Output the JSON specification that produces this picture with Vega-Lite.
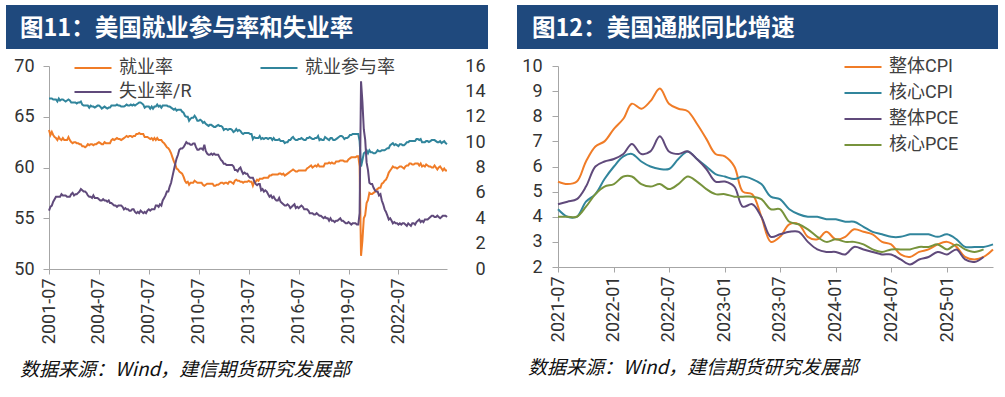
{
"$schema": "https://vega.github.io/schema/vega-lite/v6.json",
"background": "white",
"padding": {"left": 6, "top": 5, "right": 0, "bottom": 0},
"config": {
  "view": {"stroke": null},
  "axis": {"labelFont": "Roboto", "labelFontSize": 18, "labelColor": "#333333", "domainColor": "#A6A6A6", "tickColor": "#A6A6A6", "grid": false, "title": null},
  "legend": {"labelFont": "Roboto, Noto Sans CJK SC", "labelFontSize": 18, "labelColor": "#404040", "symbolType": "stroke", "symbolSize": 1369, "symbolStrokeWidth": 2.2, "labelOffset": 6, "padding": 0, "title": null, "clipHeight": 20},
  "title": {"font": "Noto Sans CJK SC"}
},
"resolve": {"scale": {"color": "independent"}},
"datasets": {
"emp": [
{"d":"2001-07","e":63.7,"p":66.8,"u":4.6},{"d":"2001-08","e":63.2,"p":66.8,"u":4.9},{"d":"2001-09","e":63.5,"p":66.8,"u":5.0},{"d":"2001-10","e":63.2,"p":66.7,"u":5.3},{"d":"2001-11","e":63.0,"p":66.7,"u":5.5},{"d":"2001-12","e":62.9,"p":66.7,"u":5.7},
{"d":"2002-01","e":62.7,"p":66.5,"u":5.7},{"d":"2002-02","e":63.0,"p":66.8,"u":5.7},{"d":"2002-03","e":62.8,"p":66.6,"u":5.7},{"d":"2002-04","e":62.7,"p":66.7,"u":5.9},{"d":"2002-05","e":62.9,"p":66.7,"u":5.8},{"d":"2002-06","e":62.7,"p":66.6,"u":5.8},{"d":"2002-07","e":62.7,"p":66.5,"u":5.8},{"d":"2002-08","e":62.7,"p":66.6,"u":5.7},{"d":"2002-09","e":63.0,"p":66.7,"u":5.7},{"d":"2002-10","e":62.7,"p":66.6,"u":5.7},{"d":"2002-11","e":62.5,"p":66.4,"u":5.9},{"d":"2002-12","e":62.4,"p":66.4,"u":6.0},
{"d":"2003-01","e":62.5,"p":66.4,"u":5.8},{"d":"2003-02","e":62.5,"p":66.4,"u":5.9},{"d":"2003-03","e":62.4,"p":66.3,"u":5.9},{"d":"2003-04","e":62.4,"p":66.4,"u":6.0},{"d":"2003-05","e":62.3,"p":66.4,"u":6.1},{"d":"2003-06","e":62.3,"p":66.5,"u":6.3},{"d":"2003-07","e":62.1,"p":66.2,"u":6.2},{"d":"2003-08","e":62.1,"p":66.1,"u":6.1},{"d":"2003-09","e":62.0,"p":66.1,"u":6.1},{"d":"2003-10","e":62.1,"p":66.1,"u":6.0},{"d":"2003-11","e":62.3,"p":66.1,"u":5.8},{"d":"2003-12","e":62.2,"p":65.9,"u":5.7},
{"d":"2004-01","e":62.3,"p":66.1,"u":5.7},{"d":"2004-02","e":62.3,"p":66.0,"u":5.6},{"d":"2004-03","e":62.2,"p":66.0,"u":5.8},{"d":"2004-04","e":62.3,"p":65.9,"u":5.6},{"d":"2004-05","e":62.3,"p":66.0,"u":5.6},{"d":"2004-06","e":62.4,"p":66.1,"u":5.6},{"d":"2004-07","e":62.5,"p":66.1,"u":5.5},{"d":"2004-08","e":62.4,"p":66.0,"u":5.4},{"d":"2004-09","e":62.3,"p":65.8,"u":5.4},{"d":"2004-10","e":62.3,"p":65.9,"u":5.5},{"d":"2004-11","e":62.5,"p":66.0,"u":5.4},{"d":"2004-12","e":62.4,"p":65.9,"u":5.4},
{"d":"2005-01","e":62.4,"p":65.8,"u":5.3},{"d":"2005-02","e":62.4,"p":65.9,"u":5.4},{"d":"2005-03","e":62.4,"p":65.9,"u":5.2},{"d":"2005-04","e":62.7,"p":66.1,"u":5.2},{"d":"2005-05","e":62.8,"p":66.1,"u":5.1},{"d":"2005-06","e":62.7,"p":66.1,"u":5.0},{"d":"2005-07","e":62.8,"p":66.1,"u":5.0},{"d":"2005-08","e":62.9,"p":66.2,"u":4.9},{"d":"2005-09","e":62.8,"p":66.1,"u":5.0},{"d":"2005-10","e":62.8,"p":66.1,"u":5.0},{"d":"2005-11","e":62.7,"p":66.0,"u":5.0},{"d":"2005-12","e":62.8,"p":66.0,"u":4.9},
{"d":"2006-01","e":62.9,"p":66.0,"u":4.7},{"d":"2006-02","e":63.0,"p":66.1,"u":4.8},{"d":"2006-03","e":63.1,"p":66.2,"u":4.7},{"d":"2006-04","e":63.0,"p":66.1,"u":4.7},{"d":"2006-05","e":63.1,"p":66.1,"u":4.6},{"d":"2006-06","e":63.1,"p":66.2,"u":4.6},{"d":"2006-07","e":63.0,"p":66.1,"u":4.7},{"d":"2006-08","e":63.1,"p":66.2,"u":4.7},{"d":"2006-09","e":63.1,"p":66.1,"u":4.5},{"d":"2006-10","e":63.3,"p":66.2,"u":4.4},{"d":"2006-11","e":63.3,"p":66.3,"u":4.5},{"d":"2006-12","e":63.4,"p":66.4,"u":4.4},
{"d":"2007-01","e":63.3,"p":66.4,"u":4.6},{"d":"2007-02","e":63.3,"p":66.3,"u":4.5},{"d":"2007-03","e":63.3,"p":66.2,"u":4.4},{"d":"2007-04","e":63.0,"p":65.9,"u":4.5},{"d":"2007-05","e":63.0,"p":66.0,"u":4.4},{"d":"2007-06","e":63.0,"p":66.0,"u":4.6},{"d":"2007-07","e":62.9,"p":66.0,"u":4.7},{"d":"2007-08","e":62.8,"p":65.8,"u":4.6},{"d":"2007-09","e":62.9,"p":66.0,"u":4.7},{"d":"2007-10","e":62.7,"p":65.8,"u":4.7},{"d":"2007-11","e":62.9,"p":66.0,"u":4.7},{"d":"2007-12","e":62.7,"p":66.0,"u":5.0},
{"d":"2008-01","e":62.9,"p":66.2,"u":5.0},{"d":"2008-02","e":62.7,"p":66.0,"u":4.9},{"d":"2008-03","e":62.7,"p":66.1,"u":5.1},{"d":"2008-04","e":62.7,"p":65.9,"u":5.0},{"d":"2008-05","e":62.5,"p":66.1,"u":5.4},{"d":"2008-06","e":62.4,"p":66.1,"u":5.6},{"d":"2008-07","e":62.2,"p":66.1,"u":5.8},{"d":"2008-08","e":62.0,"p":66.1,"u":6.1},{"d":"2008-09","e":61.9,"p":66.0,"u":6.1},{"d":"2008-10","e":61.7,"p":66.0,"u":6.5},{"d":"2008-11","e":61.4,"p":65.9,"u":6.8},{"d":"2008-12","e":61.0,"p":65.8,"u":7.3},
{"d":"2009-01","e":60.6,"p":65.7,"u":7.8},{"d":"2009-02","e":60.3,"p":65.8,"u":8.3},{"d":"2009-03","e":59.9,"p":65.6,"u":8.7},{"d":"2009-04","e":59.8,"p":65.7,"u":9.0},{"d":"2009-05","e":59.6,"p":65.7,"u":9.4},{"d":"2009-06","e":59.5,"p":65.7,"u":9.5},{"d":"2009-07","e":59.4,"p":65.5,"u":9.5},{"d":"2009-08","e":59.1,"p":65.4,"u":9.6},{"d":"2009-09","e":58.7,"p":65.1,"u":9.8},{"d":"2009-10","e":58.5,"p":65.0,"u":10.0},{"d":"2009-11","e":58.6,"p":65.0,"u":9.9},{"d":"2009-12","e":58.3,"p":64.6,"u":9.9},
{"d":"2010-01","e":58.5,"p":64.8,"u":9.8},{"d":"2010-02","e":58.5,"p":64.9,"u":9.8},{"d":"2010-03","e":58.5,"p":64.9,"u":9.9},{"d":"2010-04","e":58.7,"p":65.1,"u":9.9},{"d":"2010-05","e":58.6,"p":64.9,"u":9.6},{"d":"2010-06","e":58.5,"p":64.6,"u":9.4},{"d":"2010-07","e":58.5,"p":64.6,"u":9.4},{"d":"2010-08","e":58.5,"p":64.7,"u":9.5},{"d":"2010-09","e":58.5,"p":64.6,"u":9.5},{"d":"2010-10","e":58.3,"p":64.4,"u":9.4},{"d":"2010-11","e":58.2,"p":64.5,"u":9.8},{"d":"2010-12","e":58.3,"p":64.3,"u":9.3},
{"d":"2011-01","e":58.4,"p":64.2,"u":9.1},{"d":"2011-02","e":58.4,"p":64.1,"u":9.0},{"d":"2011-03","e":58.4,"p":64.2,"u":9.0},{"d":"2011-04","e":58.4,"p":64.2,"u":9.1},{"d":"2011-05","e":58.4,"p":64.1,"u":9.0},{"d":"2011-06","e":58.2,"p":64.0,"u":9.1},{"d":"2011-07","e":58.2,"p":64.0,"u":9.0},{"d":"2011-08","e":58.3,"p":64.1,"u":9.0},{"d":"2011-09","e":58.3,"p":64.2,"u":9.0},{"d":"2011-10","e":58.4,"p":64.1,"u":8.8},{"d":"2011-11","e":58.5,"p":64.1,"u":8.6},{"d":"2011-12","e":58.5,"p":64.0,"u":8.5},
{"d":"2012-01","e":58.4,"p":63.7,"u":8.3},{"d":"2012-02","e":58.5,"p":63.8,"u":8.3},{"d":"2012-03","e":58.5,"p":63.8,"u":8.2},{"d":"2012-04","e":58.4,"p":63.7,"u":8.2},{"d":"2012-05","e":58.6,"p":63.8,"u":8.2},{"d":"2012-06","e":58.6,"p":63.8,"u":8.2},{"d":"2012-07","e":58.5,"p":63.7,"u":8.2},{"d":"2012-08","e":58.4,"p":63.5,"u":8.1},{"d":"2012-09","e":58.7,"p":63.6,"u":7.8},{"d":"2012-10","e":58.8,"p":63.8,"u":7.8},{"d":"2012-11","e":58.7,"p":63.6,"u":7.7},{"d":"2012-12","e":58.7,"p":63.7,"u":7.9},
{"d":"2013-01","e":58.6,"p":63.6,"u":8.0},{"d":"2013-02","e":58.6,"p":63.4,"u":7.7},{"d":"2013-03","e":58.5,"p":63.3,"u":7.5},{"d":"2013-04","e":58.6,"p":63.4,"u":7.6},{"d":"2013-05","e":58.6,"p":63.4,"u":7.5},{"d":"2013-06","e":58.6,"p":63.4,"u":7.5},{"d":"2013-07","e":58.7,"p":63.4,"u":7.3},{"d":"2013-08","e":58.6,"p":63.3,"u":7.2},{"d":"2013-09","e":58.6,"p":63.3,"u":7.2},{"d":"2013-10","e":58.2,"p":62.8,"u":7.2},{"d":"2013-11","e":58.6,"p":63.0,"u":6.9},{"d":"2013-12","e":58.6,"p":62.9,"u":6.7},
{"d":"2014-01","e":58.8,"p":62.9,"u":6.6},{"d":"2014-02","e":58.7,"p":62.9,"u":6.7},{"d":"2014-03","e":58.9,"p":63.1,"u":6.7},{"d":"2014-04","e":58.9,"p":62.8,"u":6.2},{"d":"2014-05","e":58.9,"p":62.9,"u":6.3},{"d":"2014-06","e":59.0,"p":62.8,"u":6.1},{"d":"2014-07","e":59.0,"p":62.9,"u":6.2},{"d":"2014-08","e":59.0,"p":62.9,"u":6.1},{"d":"2014-09","e":59.0,"p":62.8,"u":5.9},{"d":"2014-10","e":59.2,"p":62.9,"u":5.7},{"d":"2014-11","e":59.2,"p":62.9,"u":5.8},{"d":"2014-12","e":59.3,"p":62.7,"u":5.6},
{"d":"2015-01","e":59.3,"p":62.9,"u":5.7},{"d":"2015-02","e":59.3,"p":62.7,"u":5.5},{"d":"2015-03","e":59.3,"p":62.7,"u":5.4},{"d":"2015-04","e":59.3,"p":62.7,"u":5.4},{"d":"2015-05","e":59.4,"p":62.8,"u":5.6},{"d":"2015-06","e":59.4,"p":62.6,"u":5.3},{"d":"2015-07","e":59.3,"p":62.6,"u":5.2},{"d":"2015-08","e":59.4,"p":62.6,"u":5.1},{"d":"2015-09","e":59.2,"p":62.4,"u":5.0},{"d":"2015-10","e":59.3,"p":62.5,"u":5.0},{"d":"2015-11","e":59.4,"p":62.5,"u":5.1},{"d":"2015-12","e":59.5,"p":62.7,"u":5.0},
{"d":"2016-01","e":59.6,"p":62.7,"u":4.8},{"d":"2016-02","e":59.7,"p":62.9,"u":4.9},{"d":"2016-03","e":59.8,"p":63.0,"u":5.0},{"d":"2016-04","e":59.7,"p":62.8,"u":5.1},{"d":"2016-05","e":59.6,"p":62.7,"u":4.8},{"d":"2016-06","e":59.6,"p":62.7,"u":4.9},{"d":"2016-07","e":59.7,"p":62.8,"u":4.8},{"d":"2016-08","e":59.7,"p":62.8,"u":4.9},{"d":"2016-09","e":59.7,"p":62.9,"u":5.0},{"d":"2016-10","e":59.7,"p":62.8,"u":4.9},{"d":"2016-11","e":59.7,"p":62.7,"u":4.7},{"d":"2016-12","e":59.7,"p":62.7,"u":4.7},
{"d":"2017-01","e":59.9,"p":62.9,"u":4.7},{"d":"2017-02","e":60.0,"p":62.9,"u":4.6},{"d":"2017-03","e":60.1,"p":63.0,"u":4.4},{"d":"2017-04","e":60.2,"p":62.9,"u":4.4},{"d":"2017-05","e":60.0,"p":62.8,"u":4.4},{"d":"2017-06","e":60.1,"p":62.8,"u":4.3},{"d":"2017-07","e":60.2,"p":62.9,"u":4.3},{"d":"2017-08","e":60.1,"p":62.9,"u":4.4},{"d":"2017-09","e":60.3,"p":63.1,"u":4.3},{"d":"2017-10","e":60.1,"p":62.7,"u":4.2},{"d":"2017-11","e":60.1,"p":62.8,"u":4.2},{"d":"2017-12","e":60.1,"p":62.7,"u":4.1},
{"d":"2018-01","e":60.1,"p":62.7,"u":4.0},{"d":"2018-02","e":60.4,"p":63.0,"u":4.1},{"d":"2018-03","e":60.4,"p":62.9,"u":4.0},{"d":"2018-04","e":60.4,"p":62.8,"u":4.0},{"d":"2018-05","e":60.5,"p":62.7,"u":3.8},{"d":"2018-06","e":60.4,"p":62.9,"u":4.0},{"d":"2018-07","e":60.5,"p":62.9,"u":3.8},{"d":"2018-08","e":60.4,"p":62.7,"u":3.8},{"d":"2018-09","e":60.4,"p":62.7,"u":3.7},{"d":"2018-10","e":60.6,"p":62.8,"u":3.8},{"d":"2018-11","e":60.6,"p":62.9,"u":3.8},{"d":"2018-12","e":60.6,"p":63.0,"u":3.9},
{"d":"2019-01","e":60.7,"p":63.1,"u":4.0},{"d":"2019-02","e":60.7,"p":63.1,"u":3.8},{"d":"2019-03","e":60.7,"p":63.0,"u":3.8},{"d":"2019-04","e":60.6,"p":62.8,"u":3.7},{"d":"2019-05","e":60.6,"p":62.9,"u":3.6},{"d":"2019-06","e":60.6,"p":62.9,"u":3.6},{"d":"2019-07","e":60.8,"p":63.0,"u":3.7},{"d":"2019-08","e":60.9,"p":63.2,"u":3.6},{"d":"2019-09","e":61.0,"p":63.2,"u":3.5},{"d":"2019-10","e":61.0,"p":63.3,"u":3.6},{"d":"2019-11","e":61.0,"p":63.3,"u":3.6},{"d":"2019-12","e":61.0,"p":63.3,"u":3.6},
{"d":"2020-01","e":61.1,"p":63.3,"u":3.5},{"d":"2020-02","e":61.1,"p":63.3,"u":3.5},{"d":"2020-03","e":60.1,"p":62.6,"u":4.4},{"d":"2020-04","e":51.3,"p":60.1,"u":14.8},{"d":"2020-05","e":52.8,"p":60.7,"u":13.2},{"d":"2020-06","e":55.0,"p":61.4,"u":11.0},{"d":"2020-07","e":55.3,"p":61.5,"u":10.2},{"d":"2020-08","e":56.5,"p":61.7,"u":8.4},{"d":"2020-09","e":56.8,"p":61.4,"u":7.8},{"d":"2020-10","e":57.5,"p":61.7,"u":6.8},{"d":"2020-11","e":57.4,"p":61.5,"u":6.7},{"d":"2020-12","e":57.4,"p":61.5,"u":6.7},
{"d":"2021-01","e":57.5,"p":61.4,"u":6.4},{"d":"2021-02","e":57.6,"p":61.4,"u":6.2},{"d":"2021-03","e":57.8,"p":61.5,"u":6.1},{"d":"2021-04","e":57.9,"p":61.7,"u":6.1},{"d":"2021-05","e":58.0,"p":61.6,"u":5.8},{"d":"2021-06","e":58.0,"p":61.6,"u":5.9},{"d":"2021-07","e":58.4,"p":61.7,"u":5.4},{"d":"2021-08","e":58.5,"p":61.7,"u":5.1},{"d":"2021-09","e":58.7,"p":61.7,"u":4.7},{"d":"2021-10","e":58.8,"p":61.8,"u":4.5},{"d":"2021-11","e":59.1,"p":61.9,"u":4.2},{"d":"2021-12","e":59.5,"p":61.9,"u":3.9},
{"d":"2022-01","e":59.7,"p":62.2,"u":4.0},{"d":"2022-02","e":59.9,"p":62.3,"u":3.8},{"d":"2022-03","e":60.1,"p":62.4,"u":3.6},{"d":"2022-04","e":60.0,"p":62.2,"u":3.7},{"d":"2022-05","e":60.0,"p":62.3,"u":3.6},{"d":"2022-06","e":59.9,"p":62.2,"u":3.6},{"d":"2022-07","e":60.0,"p":62.1,"u":3.5},{"d":"2022-08","e":60.1,"p":62.3,"u":3.6},{"d":"2022-09","e":60.1,"p":62.3,"u":3.5},{"d":"2022-10","e":60.0,"p":62.2,"u":3.6},{"d":"2022-11","e":59.9,"p":62.2,"u":3.6},{"d":"2022-12","e":60.1,"p":62.3,"u":3.5},
{"d":"2023-01","e":60.2,"p":62.5,"u":3.4},{"d":"2023-02","e":60.2,"p":62.5,"u":3.6},{"d":"2023-03","e":60.4,"p":62.6,"u":3.5},{"d":"2023-04","e":60.4,"p":62.6,"u":3.4},{"d":"2023-05","e":60.3,"p":62.6,"u":3.6},{"d":"2023-06","e":60.3,"p":62.6,"u":3.6},{"d":"2023-07","e":60.4,"p":62.6,"u":3.5},{"d":"2023-08","e":60.4,"p":62.8,"u":3.7},{"d":"2023-09","e":60.4,"p":62.8,"u":3.8},{"d":"2023-10","e":60.2,"p":62.7,"u":3.9},{"d":"2023-11","e":60.4,"p":62.8,"u":3.7},{"d":"2023-12","e":60.1,"p":62.5,"u":3.8},
{"d":"2024-01","e":60.2,"p":62.5,"u":3.7},{"d":"2024-02","e":60.1,"p":62.5,"u":3.9},{"d":"2024-03","e":60.3,"p":62.6,"u":3.9},{"d":"2024-04","e":60.2,"p":62.6,"u":3.9},{"d":"2024-05","e":60.1,"p":62.5,"u":4.0},{"d":"2024-06","e":60.1,"p":62.6,"u":4.1},{"d":"2024-07","e":60.0,"p":62.7,"u":4.2},{"d":"2024-08","e":60.0,"p":62.7,"u":4.2},{"d":"2024-09","e":60.2,"p":62.7,"u":4.1},{"d":"2024-10","e":60.0,"p":62.6,"u":4.1},{"d":"2024-11","e":59.8,"p":62.5,"u":4.2},{"d":"2024-12","e":60.0,"p":62.5,"u":4.1},
{"d":"2025-01","e":60.1,"p":62.6,"u":4.0},{"d":"2025-02","e":59.9,"p":62.4,"u":4.1},{"d":"2025-03","e":59.7,"p":62.5,"u":4.2},{"d":"2025-04","e":59.9,"p":62.6,"u":4.2},{"d":"2025-05","e":59.7,"p":62.4,"u":4.2},{"d":"2025-06","e":59.7,"p":62.3,"u":4.1}
],
"inf": [
{"d":"2021-07","整体CPI":5.4,"核心CPI":4.3,"整体PCE":4.5,"核心PCE":4.0},
{"d":"2021-08","整体CPI":5.3,"核心CPI":4.0,"整体PCE":4.6,"核心PCE":4.0},
{"d":"2021-09","整体CPI":5.4,"核心CPI":4.0,"整体PCE":4.7,"核心PCE":4.0},
{"d":"2021-10","整体CPI":6.2,"核心CPI":4.6,"整体PCE":5.2,"核心PCE":4.4},
{"d":"2021-11","整体CPI":6.8,"核心CPI":4.9,"整体PCE":6.0,"核心PCE":4.9},
{"d":"2021-12","整体CPI":7.0,"核心CPI":5.5,"整体PCE":6.2,"核心PCE":5.2},
{"d":"2022-01","整体CPI":7.5,"核心CPI":6.0,"整体PCE":6.3,"核心PCE":5.3},
{"d":"2022-02","整体CPI":7.9,"核心CPI":6.4,"整体PCE":6.5,"核心PCE":5.6},
{"d":"2022-03","整体CPI":8.5,"核心CPI":6.5,"整体PCE":6.9,"核心PCE":5.6},
{"d":"2022-04","整体CPI":8.3,"核心CPI":6.2,"整体PCE":6.5,"核心PCE":5.3},
{"d":"2022-05","整体CPI":8.6,"核心CPI":6.0,"整体PCE":6.6,"核心PCE":5.2},
{"d":"2022-06","整体CPI":9.1,"核心CPI":5.9,"整体PCE":7.2,"核心PCE":5.3},
{"d":"2022-07","整体CPI":8.5,"核心CPI":5.9,"整体PCE":6.6,"核心PCE":5.1},
{"d":"2022-08","整体CPI":8.3,"核心CPI":6.3,"整体PCE":6.5,"核心PCE":5.3},
{"d":"2022-09","整体CPI":8.2,"核心CPI":6.6,"整体PCE":6.6,"核心PCE":5.6},
{"d":"2022-10","整体CPI":7.7,"核心CPI":6.3,"整体PCE":6.3,"核心PCE":5.4},
{"d":"2022-11","整体CPI":7.1,"核心CPI":6.0,"整体PCE":5.9,"核心PCE":5.1},
{"d":"2022-12","整体CPI":6.5,"核心CPI":5.7,"整体PCE":5.4,"核心PCE":4.9},
{"d":"2023-01","整体CPI":6.4,"核心CPI":5.6,"整体PCE":5.4,"核心PCE":4.9},
{"d":"2023-02","整体CPI":6.0,"核心CPI":5.5,"整体PCE":5.2,"核心PCE":4.8},
{"d":"2023-03","整体CPI":5.0,"核心CPI":5.6,"整体PCE":4.4,"核心PCE":4.8},
{"d":"2023-04","整体CPI":4.9,"核心CPI":5.5,"整体PCE":4.5,"核心PCE":4.8},
{"d":"2023-05","整体CPI":4.0,"核心CPI":5.3,"整体PCE":4.0,"核心PCE":4.7},
{"d":"2023-06","整体CPI":3.0,"核心CPI":4.8,"整体PCE":3.2,"核心PCE":4.3},
{"d":"2023-07","整体CPI":3.2,"核心CPI":4.7,"整体PCE":3.3,"核心PCE":4.3},
{"d":"2023-08","整体CPI":3.7,"核心CPI":4.3,"整体PCE":3.4,"核心PCE":3.8},
{"d":"2023-09","整体CPI":3.7,"核心CPI":4.1,"整体PCE":3.4,"核心PCE":3.7},
{"d":"2023-10","整体CPI":3.2,"核心CPI":4.0,"整体PCE":3.0,"核心PCE":3.5},
{"d":"2023-11","整体CPI":3.1,"核心CPI":4.0,"整体PCE":2.7,"核心PCE":3.2},
{"d":"2023-12","整体CPI":3.4,"核心CPI":3.9,"整体PCE":2.6,"核心PCE":3.0},
{"d":"2024-01","整体CPI":3.1,"核心CPI":3.9,"整体PCE":2.6,"核心PCE":3.1},
{"d":"2024-02","整体CPI":3.2,"核心CPI":3.8,"整体PCE":2.5,"核心PCE":3.0},
{"d":"2024-03","整体CPI":3.5,"核心CPI":3.8,"整体PCE":2.8,"核心PCE":3.0},
{"d":"2024-04","整体CPI":3.4,"核心CPI":3.6,"整体PCE":2.7,"核心PCE":2.9},
{"d":"2024-05","整体CPI":3.3,"核心CPI":3.4,"整体PCE":2.6,"核心PCE":2.7},
{"d":"2024-06","整体CPI":3.0,"核心CPI":3.3,"整体PCE":2.5,"核心PCE":2.6},
{"d":"2024-07","整体CPI":2.9,"核心CPI":3.2,"整体PCE":2.5,"核心PCE":2.7},
{"d":"2024-08","整体CPI":2.5,"核心CPI":3.2,"整体PCE":2.3,"核心PCE":2.7},
{"d":"2024-09","整体CPI":2.4,"核心CPI":3.3,"整体PCE":2.1,"核心PCE":2.7},
{"d":"2024-10","整体CPI":2.6,"核心CPI":3.3,"整体PCE":2.3,"核心PCE":2.8},
{"d":"2024-11","整体CPI":2.7,"核心CPI":3.3,"整体PCE":2.4,"核心PCE":2.8},
{"d":"2024-12","整体CPI":2.9,"核心CPI":3.2,"整体PCE":2.6,"核心PCE":2.9},
{"d":"2025-01","整体CPI":3.0,"核心CPI":3.3,"整体PCE":2.5,"核心PCE":2.7},
{"d":"2025-02","整体CPI":2.8,"核心CPI":3.1,"整体PCE":2.7,"核心PCE":2.9},
{"d":"2025-03","整体CPI":2.4,"核心CPI":2.8,"整体PCE":2.3,"核心PCE":2.7},
{"d":"2025-04","整体CPI":2.3,"核心CPI":2.8,"整体PCE":2.2,"核心PCE":2.6},
{"d":"2025-05","整体CPI":2.4,"核心CPI":2.8,"整体PCE":2.4,"核心PCE":2.7},
{"d":"2025-06","整体CPI":2.7,"核心CPI":2.9,"整体PCE":null,"核心PCE":null}
]
},
"spacing": 8,
"vconcat": [
{
  "spacing": 29,
  "hconcat": [
    {
      "width": 482, "height": 44,
      "view": {"fill": "#1F497D", "stroke": null},
      "data": {"values": [{"t": "图11：美国就业参与率和失业率"}]},
      "mark": {"type": "text", "align": "left", "baseline": "middle", "dx": 14, "dy": 2, "font": "Noto Sans CJK SC", "fontWeight": "bold", "fontSize": 23.5, "color": "white"},
      "encoding": {
        "text": {"field": "t"},
        "x": {"datum": 0, "type": "quantitative", "scale": {"domain": [0, 1]}, "axis": null}
      }
    },
    {
      "width": 481, "height": 44,
      "view": {"fill": "#1F497D", "stroke": null},
      "data": {"values": [{"t": "图12：美国通胀同比增速"}]},
      "mark": {"type": "text", "align": "left", "baseline": "middle", "dx": 15, "dy": 2, "font": "Noto Sans CJK SC", "fontWeight": "bold", "fontSize": 23.5, "color": "white"},
      "encoding": {
        "text": {"field": "t"},
        "x": {"datum": 0, "type": "quantitative", "scale": {"domain": [0, 1]}, "axis": null}
      }
    }
  ]
},
{
  "spacing": 29,
  "resolve": {"scale": {"color": "independent"}},
  "hconcat": [
    {
      "width": 441, "height": 203,
      "data": {"name": "emp"},
      "transform": [{"fold": ["e", "p", "u"], "as": ["k", "v"]}],
      "title": {"text": "数据来源：Wind，建信期货研究发展部", "orient": "bottom", "anchor": "start", "frame": "group", "dx": 14, "offset": 17, "fontSize": 19, "fontStyle": "italic", "fontWeight": "normal", "color": "#111111"},
      "encoding": {
        "x": {"field": "d", "type": "temporal",
          "scale": {"type": "utc", "range": [43, 441], "domain": [{"year": 2001, "month": 7, "date": 1, "utc": true}, {"year": 2025, "month": 6, "date": 1, "utc": true}]},
          "axis": {"values": [
            {"year": 2001, "month": 7, "date": 1, "utc": true},
            {"year": 2004, "month": 7, "date": 1, "utc": true},
            {"year": 2007, "month": 7, "date": 1, "utc": true},
            {"year": 2010, "month": 7, "date": 1, "utc": true},
            {"year": 2013, "month": 7, "date": 1, "utc": true},
            {"year": 2016, "month": 7, "date": 1, "utc": true},
            {"year": 2019, "month": 7, "date": 1, "utc": true},
            {"year": 2022, "month": 7, "date": 1, "utc": true}],
            "format": "%Y-%m", "labelAngle": 270, "tickSize": 5, "labelPadding": 4}},
        "color": {"field": "k", "type": "nominal",
          "scale": {"domain": ["e", "p", "u"], "range": ["#F07C27", "#31859C", "#604A7B"]},
          "legend": {"orient": "none", "legendX": 67, "legendY": -8, "direction": "horizontal", "columns": 2, "columnPadding": 67, "rowPadding": 4,
            "labelExpr": "{'e': '就业率', 'p': '就业参与率', 'u': '失业率/R'}[datum.value]"}}
      },
      "layer": [
        {
          "transform": [{"filter": "datum.k != 'u'"}],
          "mark": {"type": "line", "strokeWidth": 2},
          "encoding": {"y": {"field": "v", "type": "quantitative", "scale": {"domain": [50, 70]},
            "axis": {"orient": "left", "offset": -43, "values": [50, 55, 60, 65, 70], "tickSize": 6, "labelPadding": 9}}}
        },
        {
          "transform": [{"filter": "datum.k == 'u'"}],
          "mark": {"type": "line", "strokeWidth": 2},
          "encoding": {"y": {"field": "v", "type": "quantitative", "scale": {"domain": [0, 16]},
            "axis": {"orient": "right", "values": [0, 2, 4, 6, 8, 10, 12, 14, 16], "ticks": false, "domain": false, "labelAlign": "right", "labelPadding": 38, "minExtent": 41, "maxExtent": 41}}}
        }
      ],
      "resolve": {"scale": {"y": "independent"}}
    },
    {
      "width": 476, "height": 201,
      "data": {"name": "inf"},
      "transform": [
        {"fold": ["整体CPI", "核心CPI", "整体PCE", "核心PCE"], "as": ["k", "v"]},
        {"filter": "datum.v != null"}
      ],
      "title": {"text": "数据来源：Wind，建信期货研究发展部", "orient": "bottom", "anchor": "start", "frame": "group", "dx": 11, "offset": 17, "fontSize": 19, "fontStyle": "italic", "fontWeight": "normal", "color": "#111111"},
      "mark": {"type": "line", "strokeWidth": 2, "interpolate": "catmull-rom"},
      "encoding": {
        "x": {"field": "d", "type": "temporal",
          "scale": {"type": "utc", "range": [41, 476], "domain": [{"year": 2021, "month": 7, "date": 1, "utc": true}, {"year": 2025, "month": 6, "date": 1, "utc": true}]},
          "axis": {"values": [
            {"year": 2021, "month": 7, "date": 1, "utc": true},
            {"year": 2022, "month": 1, "date": 1, "utc": true},
            {"year": 2022, "month": 7, "date": 1, "utc": true},
            {"year": 2023, "month": 1, "date": 1, "utc": true},
            {"year": 2023, "month": 7, "date": 1, "utc": true},
            {"year": 2024, "month": 1, "date": 1, "utc": true},
            {"year": 2024, "month": 7, "date": 1, "utc": true},
            {"year": 2025, "month": 1, "date": 1, "utc": true}],
            "format": "%Y-%m", "labelAngle": 270, "tickSize": 5, "labelPadding": 4}},
        "y": {"field": "v", "type": "quantitative", "scale": {"domain": [2, 10]},
          "axis": {"offset": -41, "values": [2, 3, 4, 5, 6, 7, 8, 9, 10], "tickSize": 6, "labelPadding": 10}},
        "color": {"field": "k", "type": "nominal",
          "scale": {"domain": ["整体CPI", "核心CPI", "整体PCE", "核心PCE"], "range": ["#F07C27", "#31859C", "#604A7B", "#77933C"]},
          "legend": {"orient": "none", "legendX": 326, "legendY": -9, "direction": "vertical", "rowPadding": 6}}
      }
    }
  ]
}
]
}
